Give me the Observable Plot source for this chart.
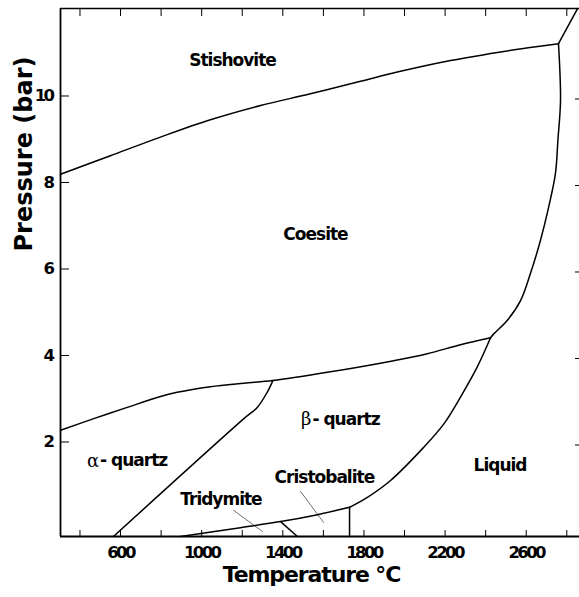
<!DOCTYPE html>
<html><head><meta charset="utf-8">
<script src="https://cdn.jsdelivr.net/npm/d3@7"></script>
<script src="https://cdn.jsdelivr.net/npm/@observablehq/plot@0.6"></script>
<style>
html,body{margin:0;padding:0;background:#fff;}
</style></head><body><div id="chart"></div>
<script>
// Scale extents and ticks
const xDomain = [304, 2862.6];
const yDomain = [-0.185, 12.023];
const xTickAll = [400, 600, 800, 1000, 1200, 1400, 1600, 1800, 2000, 2200, 2400, 2600, 2800];
const xTickLabeled = [600, 1000, 1400, 1800, 2200, 2600];
const yTicks = [2, 4, 6, 8, 10];

// Phase boundaries (Temperature °C, Pressure)
const stishoviteCoesiteT = [304, 550, 797, 1043, 1290, 1536, 1783, 1980, 2227, 2424, 2586, 2759];
const stishoviteCoesiteP = [8.19, 8.62, 9.05, 9.45, 9.78, 10.05, 10.34, 10.57, 10.82, 10.98, 11.10, 11.21];
const stishoviteLiquidT = [2759, 2853];
const stishoviteLiquidP = [11.21, 12.02];
const coesiteLiquidT = [2759, 2769, 2756, 2744, 2710, 2670, 2621, 2572, 2506, 2440, 2424];
const coesiteLiquidP = [11.21, 9.90, 8.97, 8.21, 7.42, 6.66, 5.90, 5.27, 4.81, 4.50, 4.41];
const quartzCoesiteT = [304, 468, 633, 797, 879, 1043, 1208, 1351, 1619, 1947, 2112, 2276, 2424];
const quartzCoesiteP = [2.27, 2.54, 2.80, 3.05, 3.15, 3.28, 3.36, 3.42, 3.61, 3.88, 4.04, 4.25, 4.41];
const alphaBetaT = [1351, 1323, 1274, 1208, 565];
const alphaBetaP = [3.42, 3.15, 2.80, 2.54, -0.185];
const betaLiquidT = [2424, 2358, 2276, 2194, 2093, 1931, 1817, 1729];
const betaLiquidP = [4.41, 3.73, 3.04, 2.42, 1.87, 1.11, 0.72, 0.49];
const cristobaliteLiquidT = [1729, 1729];
const cristobaliteLiquidP = [0.49, -0.185];
const tridymiteUpperT = [896, 1191, 1389, 1571, 1729];
const tridymiteUpperP = [-0.185, 0.02, 0.16, 0.32, 0.49];
const tridymiteCristobaliteT = [1389, 1472];
const tridymiteCristobaliteP = [0.16, -0.185];

// Leader lines
const tridymiteLeaderT = [1157, 1300];
const tridymiteLeaderP = [0.42, -0.07];
const cristobaliteLeaderT = [1487, 1601];
const cristobaliteLeaderP = [0.86, 0.14];

// Region labels
const regionNames = ["Stishovite", "Coesite", "Cristobalite", "Tridymite", "Liquid"];
const regionT = [1152, 1561, 1605, 1095, 2471];
const regionP = [10.81, 6.80, 1.17, 0.66, 1.45];
const greekPrefix = ["α", "β"];
const quartzSuffix = ["- quartz", "- quartz"];
const quartzT = [499, 1546];
const quartzP = [1.56, 2.53];

const xLabel = "Temperature °C";
const yLabel = "Pressure (bar)";

const toRows = (T, P, id) => T.map((t, i) => ({T: t, P: P[i], id}));
const curves = [
  ...toRows(stishoviteCoesiteT, stishoviteCoesiteP, "sc"),
  ...toRows(stishoviteLiquidT, stishoviteLiquidP, "sl"),
  ...toRows(coesiteLiquidT, coesiteLiquidP, "cl"),
  ...toRows(quartzCoesiteT, quartzCoesiteP, "qc"),
  ...toRows(alphaBetaT, alphaBetaP, "ab"),
  ...toRows(betaLiquidT, betaLiquidP, "bl"),
  ...toRows(cristobaliteLiquidT, cristobaliteLiquidP, "crl"),
  ...toRows(tridymiteUpperT, tridymiteUpperP, "tu"),
  ...toRows(tridymiteCristobaliteT, tridymiteCristobaliteP, "tc")
];
const leaders = [
  ...toRows(tridymiteLeaderT, tridymiteLeaderP, "tl"),
  ...toRows(cristobaliteLeaderT, cristobaliteLeaderP, "cl")
];
const regions = regionNames.map((n, i) => ({n, T: regionT[i], P: regionP[i]}));
const quartzRows = greekPrefix.map((g, i) => ({g, s: quartzSuffix[i], T: quartzT[i], P: quartzP[i]}));

const fmt = d => xTickLabeled.includes(d) ? String(d) : "";

const chart = Plot.plot({
  width: 579, height: 597,
  marginLeft: 60, marginRight: 0, marginTop: 8, marginBottom: 61,
  style: {fontFamily: "DejaVu Sans", background: "white", color: "black"},
  x: {domain: xDomain, label: null},
  y: {domain: yDomain, label: null},
  marks: [
    Plot.line(leaders, {x: "T", y: "P", z: "id", stroke: "#333", strokeWidth: 0.7}),
    Plot.line(curves, {x: "T", y: "P", z: "id", curve: "catmull-rom", stroke: "black", strokeWidth: 1.5}),
    Plot.ruleX([xDomain[0]], {stroke: "black", strokeWidth: 1.8}),
    Plot.ruleY([yDomain[0]], {stroke: "black", strokeWidth: 1.8}),
    Plot.ruleY([yDomain[1]], {stroke: "black", strokeWidth: 1.6}),
    Plot.axisX(xTickAll, {anchor: "bottom", tickSize: -6, tickPadding: 16, tickFormat: fmt, fontSize: 16.5, fontWeight: "bold", label: null, stroke: "black", fill: "black"}),
    Plot.axisX(xTickAll, {anchor: "top", tickSize: -7, tickFormat: () => "", label: null, stroke: "black"}),
    Plot.axisY(yTicks, {anchor: "left", tickSize: -9, tickPadding: 17, tickFormat: d => String(d), fontSize: 16.5, fontWeight: "bold", label: null, stroke: "black", fill: "black"}),
    Plot.axisY(yTicks, {anchor: "right", tickSize: -5, tickFormat: () => "", label: null, stroke: "black", dy: 3}),
    Plot.text(regions, {x: "T", y: "P", text: "n", fontSize: 17, fontWeight: "bold", fill: "black"}),
    Plot.text(quartzRows, {x: "T", y: "P", text: "g", fontSize: 18, fontFamily: "DejaVu Serif", textAnchor: "end", dx: -1, fill: "black"}),
    Plot.text(quartzRows, {x: "T", y: "P", text: "s", fontSize: 17, fontWeight: "bold", textAnchor: "start", fill: "black"}),
    Plot.text([xLabel], {frameAnchor: "bottom", text: d => d, fontSize: 22, fontWeight: "bold", dx: -8.5, dy: 45, fill: "black"}),
    Plot.text([yLabel], {frameAnchor: "left", text: d => d, fontSize: 24, fontWeight: "bold", rotate: -90, dx: -36, dy: -21, fill: "black"})
  ]
});
document.getElementById("chart").appendChild(chart);

const svg = d3.select(chart);
svg.selectAll('g[aria-label="x-axis tick label"], g[aria-label="y-axis tick label"]').attr("letter-spacing", "-2.6px");
const textGroups = svg.selectAll('g[aria-label="text"]').nodes();
if (textGroups.length >= 5) {
  d3.select(textGroups[0]).attr("letter-spacing", "-1px");
  d3.select(textGroups[2]).attr("letter-spacing", "-1px");
  d3.select(textGroups[3]).attr("letter-spacing", "-1.1px");
}
</script></body></html>
